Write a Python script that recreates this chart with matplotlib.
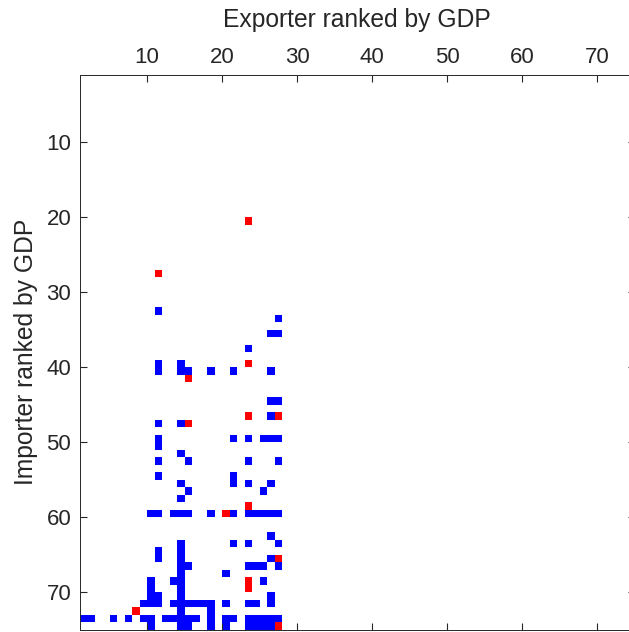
import numpy as np
import matplotlib
matplotlib.use("Agg")
import matplotlib.pyplot as plt
from matplotlib.colors import ListedColormap

plt.rcParams['font.family'] = ['Liberation Sans', 'DejaVu Sans']

n = 74  # countries ranked by GDP

# red cells: (exporter, importer)
red_exp = [23, 11, 23, 15, 23, 27, 15, 23, 20, 27, 23, 23, 8, 27]
red_imp = [20, 27, 39, 41, 46, 46, 47, 58, 59, 65, 68, 69, 72, 74]

# blue cells, one entry per importer row
blue_rows = [32, 33, 35, 37, 39, 40, 44, 46, 47, 49, 50, 51, 52, 54, 55, 56, 57,
             59, 62, 63, 64, 65, 66, 67, 68, 69, 70, 71, 72, 73, 74]
blue_cols = [[11], [27], [26, 27], [23], [11, 14], [11, 14, 15, 18, 21, 26],
             [26, 27], [26], [11, 14], [11, 21, 23, 25, 26, 27], [11], [14],
             [11, 15, 23, 27], [11, 21], [14, 21, 23, 26], [15, 25], [14],
             [10, 11, 13, 14, 15, 18, 21, 23, 24, 25, 26, 27], [26],
             [14, 21, 23, 27], [11, 14], [11, 14, 26], [14, 15, 23, 24, 25, 27],
             [14, 20], [10, 13, 14, 25], [10, 14], [10, 11, 14, 26],
             [9, 10, 11, 13, 14, 15, 16, 17, 18, 20, 23, 24, 26], [14, 18],
             [1, 2, 5, 7, 9, 10, 12, 13, 14, 15, 16, 18, 20, 21, 23, 24, 25, 26, 27],
             [10, 14, 15, 18, 20, 23, 24, 25, 26]]

M = np.zeros((n, n))
for r, cols in zip(blue_rows, blue_cols):
    for c in cols:
        M[r - 1, c - 1] = 1
for c, r in zip(red_exp, red_imp):
    M[r - 1, c - 1] = 2
M = np.ma.masked_equal(M, 0)

fig = plt.figure(figsize=(6.29, 6.32), dpi=100)
W, H = 629, 632
ax = fig.add_axes([79.5 / W, (H - 629.5) / H, 555 / W, 555 / H])

edges = np.arange(1, n + 2)
cmap = ListedColormap(['#0000ff', '#ff0000'])
ax.pcolormesh(edges, edges, M, cmap=cmap, vmin=0.5, vmax=2.5,
              edgecolors='none', antialiased=False, snap=True)

ax.set_xlim(1, n + 1)
ax.set_ylim(n + 1, 1)
ax.set_xticks(range(10, 71, 10))
ax.set_yticks(range(10, 71, 10))
ax.xaxis.tick_top()
ax.tick_params(direction='in', length=5, width=0.8, color='#262626',
               labelcolor='#262626', labelsize=16,
               top=True, bottom=True, left=True, right=True)
ax.tick_params(axis='x', pad=5)
ax.tick_params(axis='y', pad=6)
for s in ax.spines.values():
    s.set_color('#262626')
    s.set_linewidth(0.7)

ax.set_xlabel('Exporter ranked by GDP', fontsize=17.7, color='#262626', va='center')
ax.xaxis.set_label_position('top')
ax.xaxis.set_label_coords(0.5, (629.5 - 27) / 555)
ax.set_ylabel('Importer ranked by GDP', fontsize=17.7, color='#262626', va='center')
ax.yaxis.set_label_coords((26 - 79.5) / 555, 0.5)

fig.savefig('out.png', dpi=100)
